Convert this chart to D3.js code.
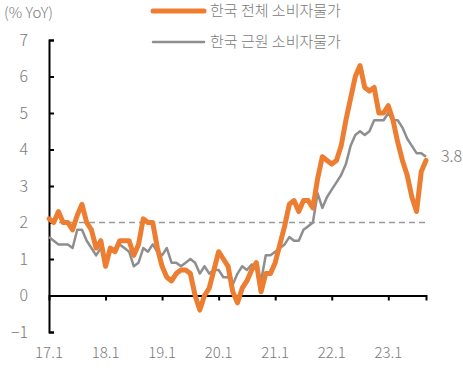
<!DOCTYPE html>
<html><head><meta charset="utf-8">
<script src="https://cdn.jsdelivr.net/npm/d3@7"></script>
<style>
html,body{margin:0;padding:0;background:#fff;}
svg{display:block;font-family:"Noto Sans CJK KR","Noto Sans",sans-serif;font-weight:300;}
</style></head>
<body><svg id="c" width="463" height="376"></svg>
<script>
const startYear = 2017;
const xTickLabels = ["17.1","18.1","19.1","20.1","21.1","22.1","23.1"];
const yTicks = [-1,0,1,2,3,4,5,6,7];
const seriesNames = ["한국 전체 소비자물가","한국 근원 소비자물가"];
// Monthly YoY %, Jan 2017 - Sep 2023
const headline = [
 2.1,2.0,2.3,2.0,2.0,1.8,2.2,2.5,2.0,1.8,1.3,1.5,
 0.8,1.3,1.2,1.5,1.5,1.5,1.1,1.4,2.1,2.0,2.0,1.3,
 0.8,0.5,0.4,0.6,0.7,0.7,0.6,0.0,-0.4,0.0,0.2,0.7,
 1.2,1.0,0.8,0.1,-0.2,0.2,0.4,0.7,0.9,0.1,0.6,0.6,
 0.9,1.4,1.9,2.5,2.6,2.3,2.6,2.6,2.4,3.2,3.8,3.7,
 3.6,3.7,4.1,4.8,5.4,6.0,6.3,5.7,5.6,5.7,5.0,5.0,
 5.2,4.8,4.2,3.7,3.3,2.7,2.3,3.4,3.7];
const core = [
 1.6,1.5,1.4,1.4,1.4,1.3,1.8,1.8,1.5,1.3,1.1,1.3,
 1.0,1.2,1.3,1.4,1.3,1.2,0.8,0.9,1.3,1.2,1.4,1.2,
 1.1,1.3,0.9,0.9,0.8,0.9,1.0,0.9,0.6,0.8,0.6,0.7,
 0.7,0.5,0.5,0.3,0.6,0.8,0.7,0.85,0.8,0.4,1.1,1.1,
 1.2,1.3,1.4,1.6,1.5,1.5,1.8,1.9,2.0,2.8,2.4,2.7,
 2.9,3.1,3.3,3.6,4.1,4.4,4.5,4.4,4.5,4.8,4.8,4.8,
 5.0,4.8,4.8,4.6,4.3,4.1,3.9,3.9,3.8];
const refLine = 2;

const svg = d3.select("#c");
const x = d3.scaleLinear().domain([0, 80]).range([49, 426]);
const y = d3.scaleLinear().domain([-1, 7]).range([332, 40]);
const txt = "#7a7a7a";

// dashed 2% line
svg.append("line").attr("x1", x(0)).attr("x2", x(80))
  .attr("y1", y(refLine)).attr("y2", y(refLine))
  .attr("stroke","#9a9a9a").attr("stroke-width",1.5).attr("stroke-dasharray","6,4");

// x axis at 0
const xAxis = d3.axisBottom(x).tickValues(d3.range(12, 80, 12)).tickSize(5).tickFormat("");
const gx = svg.append("g").attr("transform",`translate(0,${y(0)})`).call(xAxis);
gx.select(".domain").attr("stroke","#000").attr("stroke-width",2);
gx.selectAll(".tick line").attr("stroke","#000").attr("stroke-width",2);

// x labels
svg.selectAll(".xl").data(xTickLabels).enter().append("text")
  .attr("x",(d,i)=>x(i*12)).attr("y",358).attr("text-anchor","middle")
  .attr("font-size",15).attr("fill",txt).text(d=>d);

// y axis
const yAxis = d3.axisRight(y).tickValues(yTicks).tickSize(5).tickFormat("");
const gy = svg.append("g").attr("transform",`translate(${x(0)},0)`).call(yAxis);
gy.select(".domain").attr("stroke","#000").attr("stroke-width",2);
gy.selectAll(".tick line").attr("stroke","#000").attr("stroke-width",2);
svg.selectAll(".yl").data(yTicks).enter().append("text")
  .attr("x",28).attr("y",d=>y(d)).attr("dy","0.35em").attr("text-anchor","end")
  .attr("font-size",16).attr("fill",txt).text(d=>d<0?"−"+Math.abs(d):d);

svg.append("text").attr("x",4).attr("y",18).attr("font-size",15).attr("fill",txt).text("(% YoY)");

const line = d3.line().x((d,i)=>x(i)).y(d=>y(d));
svg.append("path").datum(core).attr("d",line).attr("fill","none")
  .attr("stroke","#8e8e8e").attr("stroke-width",2.5).attr("stroke-linejoin","round");
svg.append("path").datum(headline).attr("d",line).attr("fill","none")
  .attr("stroke","#ED7D31").attr("stroke-width",5).attr("stroke-linejoin","round").attr("stroke-linecap","round");

// end label
svg.append("text").attr("x",441).attr("y",y(core[core.length-1])).attr("dy","0.35em")
  .attr("font-size",16).attr("fill",txt).text(core[core.length-1].toFixed(1));

// legend
const leg = [{c:"#ED7D31",w:5,yy:11},{c:"#8e8e8e",w:2.5,yy:42}];
leg.forEach((l,i)=>{
  svg.append("line").attr("x1",153).attr("x2",204).attr("y1",l.yy).attr("y2",l.yy)
    .attr("stroke",l.c).attr("stroke-width",l.w).attr("stroke-linecap","round");
  svg.append("text").attr("x",210).attr("y",l.yy).attr("dy","0.35em")
    .attr("font-size",15).attr("fill",txt).text(seriesNames[i]);
});
</script></body></html>
